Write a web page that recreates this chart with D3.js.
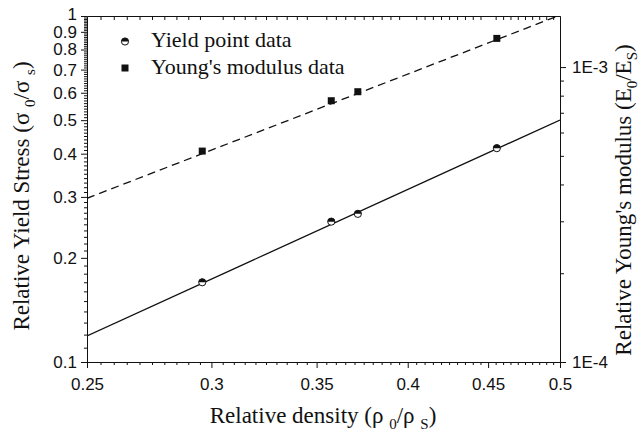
<!DOCTYPE html>
<html>
<head>
<meta charset="utf-8">
<script src="https://cdn.jsdelivr.net/npm/d3@7"></script>
<style>
	body { margin: 0; background: #fff; }
	.tick text { font-family: "Liberation Sans", Arial, sans-serif; font-size: 17px; fill: #111; }
	.tick line, .domain { stroke: #111; stroke-width: 1; }
	.legend { font-family: "Liberation Serif", "Times New Roman", serif; font-size: 22px; fill: #111; }
	.title { font-family: "Liberation Serif", "Times New Roman", serif; font-size: 23px; fill: #111; }
</style>
</head>
<body>
<div class="container"></div>
<script>
// measured points
var density = [0.296, 0.3576, 0.3718, 0.4558];
var yieldStress = [0.170, 0.2545, 0.268, 0.415];
var youngModulus = [5.19e-4, 7.69e-4, 8.25e-4, 1.251e-3];

// fitted lines (end points)
var fitDensity = [0.25, 0.5];
var yieldFit = [0.119, 0.5005];
var modulusFit = [3.59e-4, 1.50e-3];

// ticks
var xTicks = [0.25, 0.3, 0.35, 0.4, 0.45, 0.5];
var xTickLabels = ["0.25", "0.3", "0.35", "0.4", "0.45", "0.5"];
var yTicks = [0.1, 0.2, 0.3, 0.4, 0.5, 0.6, 0.7, 0.8, 0.9, 1];
var yTickLabels = ["0.1", "0.2", "0.3", "0.4", "0.5", "0.6", "0.7", "0.8", "0.9", "1"];
var y2Ticks = [1e-4, 1e-3];
var y2TickLabels = ["1E-4", "1E-3"];

var legendLabels = ["Yield point data", "Young's modulus data"];

var W = 639, H = 433;
var mLeft = 87, mRight = 560, mTop = 16, mBottom = 362;

var svg = d3.select('.container').append("svg")
	.attr("width", W)
	.attr("height", H);

var x = d3.scaleLog().domain([0.25, 0.5]).range([mLeft, mRight]);
var y = d3.scaleLog().domain([0.1, 1]).range([mBottom, mTop]);
var y2 = d3.scaleLog().domain([1e-4, 1.49e-3]).range([mBottom, mTop]);

// minor tick positions
var xMinor = d3.range(51).map(function (i) { return +(0.25 + i * 0.005).toFixed(3); })
	.filter(function (d) { return xTicks.indexOf(d) < 0; });
var yMinor = d3.range(91).map(function (i) { return +(0.1 + i * 0.01).toFixed(2); })
	.filter(function (d) { return yTicks.indexOf(d) < 0; });
var y2Minor = [2e-4, 3e-4, 4e-4, 5e-4, 6e-4, 7e-4, 8e-4, 9e-4];

function tidy (g) {
	g.select(".domain").attr("fill", "none");
}

// bottom axis
svg.append("g")
	.attr("transform", "translate(0," + mBottom + ")")
	.call(d3.axisBottom(x).tickValues(xMinor).tickSize(3).tickSizeOuter(0).tickFormat(""))
	.call(tidy);
svg.append("g")
	.attr("transform", "translate(0," + mBottom + ")")
	.call(d3.axisBottom(x).tickValues(xTicks).tickSize(6).tickSizeOuter(0).tickPadding(10)
		.tickFormat(function (d, i) { return xTickLabels[i]; }))
	.call(tidy);

// top axis, minor ticks inside only
svg.append("g")
	.attr("transform", "translate(0," + mTop + ")")
	.call(d3.axisBottom(x).tickValues(xMinor).tickSize(4).tickSizeOuter(0).tickFormat(""))
	.call(tidy);

// left axis
svg.append("g")
	.attr("transform", "translate(" + mLeft + ",0)")
	.call(d3.axisLeft(y).tickValues(yMinor).tickSize(3).tickSizeOuter(0).tickFormat(""))
	.call(tidy);
var yAxis = svg.append("g")
	.attr("transform", "translate(" + mLeft + ",0)")
	.call(d3.axisLeft(y).tickValues(yTicks).tickSize(6).tickSizeOuter(0).tickPadding(4)
		.tickFormat(function (d, i) { return yTickLabels[i]; }))
	.call(tidy);
// the top label sits a little higher, as in the original
yAxis.selectAll(".tick text").filter(function (d) { return d === 1; }).attr("dy", "0.2em");

// right axis
svg.append("g")
	.attr("transform", "translate(" + mRight + ",0)")
	.call(d3.axisRight(y2).tickValues(y2Minor).tickSize(4).tickSizeOuter(0).tickFormat(""))
	.call(tidy);
svg.append("g")
	.attr("transform", "translate(" + mRight + ",0)")
	.call(d3.axisRight(y2).tickValues(y2Ticks).tickSize(6).tickSizeOuter(0).tickPadding(6)
		.tickFormat(function (d, i) { return y2TickLabels[i]; }))
	.call(tidy);

// fit lines, clipped to the frame
svg.append("clipPath").attr("id", "plot")
	.append("rect").attr("x", mLeft).attr("y", mTop)
	.attr("width", mRight - mLeft).attr("height", mBottom - mTop);

var plot = svg.append("g").attr("clip-path", "url(#plot)");

plot.append("path")
	.datum(fitDensity)
	.attr("d", d3.line()
		.x(function (d) { return x(d); })
		.y(function (d, i) { return y(yieldFit[i]); }))
	.attr("fill", "none")
	.attr("stroke", "#111")
	.attr("stroke-width", 1.3);

plot.append("path")
	.datum(fitDensity)
	.attr("d", d3.line()
		.x(function (d) { return x(d); })
		.y(function (d, i) { return y2(modulusFit[i]); }))
	.attr("fill", "none")
	.attr("stroke", "#111")
	.attr("stroke-width", 1.3)
	.attr("stroke-dasharray", "8,5");

// half filled circle: white body, black top half
function halfCircle (g, cx, cy, r) {
	g.append("circle")
		.attr("cx", cx).attr("cy", cy).attr("r", r)
		.attr("fill", "#fff").attr("stroke", "#111").attr("stroke-width", 1);
	g.append("path")
		.attr("d", "M" + (cx - r) + "," + cy + " A" + r + "," + r + " 0 0 1 " + (cx + r) + "," + cy + " Z")
		.attr("fill", "#111");
}

var marks = svg.append("g");

density.forEach(function (d, i) {
	halfCircle(marks, x(d), y(yieldStress[i]), 3.6);
});

marks.selectAll("rect.young")
	.data(density)
	.enter()
	.append("rect")
		.attr("class", "young")
		.attr("x", function (d) { return x(d) - 3.5; })
		.attr("y", function (d, i) { return y2(youngModulus[i]) - 3.5; })
		.attr("width", 7)
		.attr("height", 7)
		.attr("fill", "#111");

// legend
var legend = svg.append("g");
halfCircle(legend, 125, 41.5, 3.6);
legend.append("rect")
	.attr("x", 121.5).attr("y", 64.5)
	.attr("width", 7).attr("height", 7)
	.attr("fill", "#111");
legend.selectAll("text")
	.data(legendLabels)
	.enter()
	.append("text")
		.attr("class", "legend")
		.attr("x", 151)
		.attr("y", function (d, i) { return 47 + i * 27; })
		.text(function (d) { return d; });

// axis titles with subscripts
function subTitle (parts, transform) {
	var t = svg.append("text")
		.attr("class", "title")
		.attr("text-anchor", "middle")
		.attr("transform", transform);
	parts.forEach(function (p) {
		var s = t.append("tspan").text(p[0]);
		if (p[1] === "sub") {
			s.attr("font-size", "15px").attr("dy", 6);
		} else if (p[1] === "up") {
			s.attr("dy", -6);
		}
	});
	return t;
}

subTitle([["Relative density (\u03c1 "], ["0", "sub"], ["/\u03c1 ", "up"], ["S", "sub"], [")", "up"]],
	"translate(323,423)");

subTitle([["Relative Yield Stress (\u03c3 "], ["0", "sub"], ["/\u03c3 ", "up"], ["s", "sub"], [")", "up"]],
	"translate(29,196) rotate(-90)");

subTitle([["Relative Young's modulus (E"], ["0", "sub"], ["/E", "up"], ["S", "sub"], [")", "up"]],
	"translate(631,200) rotate(-90)");
</script>
</body>
</html>
